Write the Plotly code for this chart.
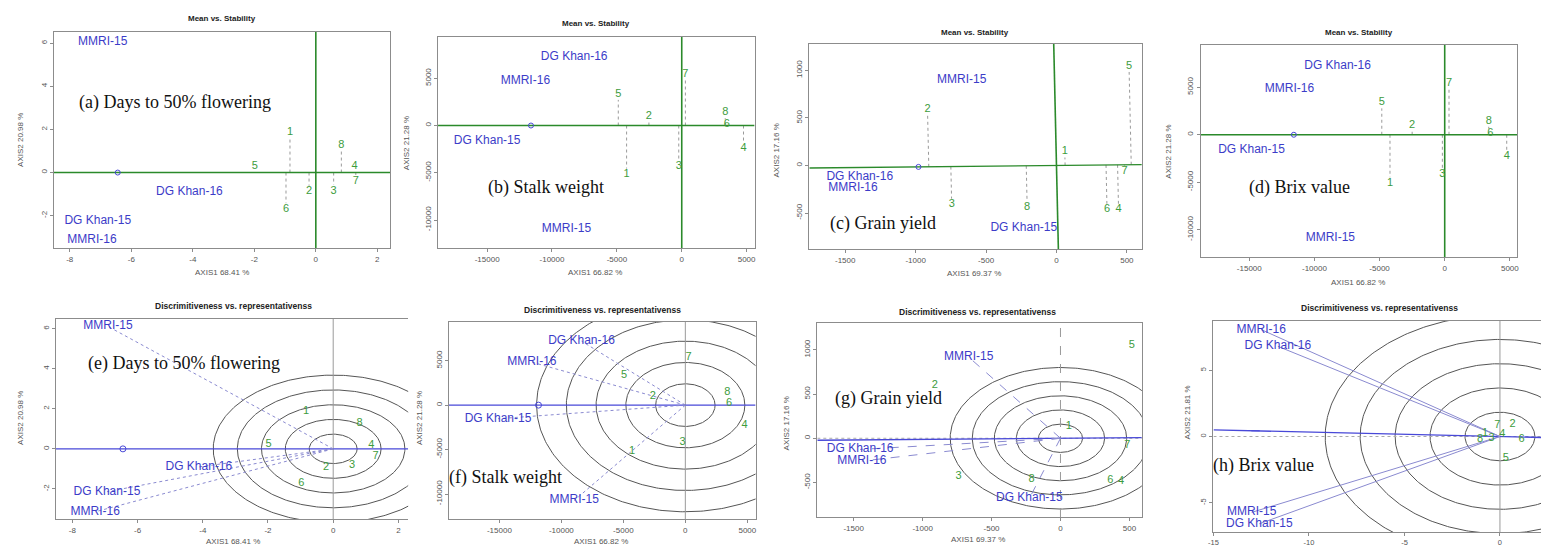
import numpy as np
import plotly.graph_objects as go

W, H = 1543, 547

# ------------------------------------------------------------------ data
gen_labels = ["1", "2", "3", "4", "5", "6", "7", "8"]

# (a) Days to 50% flowering : Mean vs. Stability
a_gen_x = [-0.84, -0.22, 0.58, 1.26, -1.98, -0.97, 1.30, 0.83]
a_gen_y = [1.88, -0.89, -0.85, 0.27, 0.27, -1.70, -0.39, 1.28]
a_env_labels = ["MMRI-15", "DG Khan-16", "DG Khan-15", "MMRI-16"]
a_env_x = [-6.93, -4.11, -7.09, -7.28]
a_env_y = [6.05, -0.89, -2.24, -3.12]
a_avg_env = [-6.44, 0.0]

# (b) Stalk weight : Mean vs. Stability
b_gen_x = [-4250, -2530, -230, 4760, -4890, 3480, 280, 3350]
b_gen_y = [-5190, 950, -4300, -2360, 3350, 110, 5400, 1410]
b_env_labels = ["DG Khan-16", "MMRI-16", "DG Khan-15", "MMRI-15"]
b_env_x = [-8290, -12050, -15000, -8880]
b_env_y = [7230, 4760, -1660, -10970]
b_avg_env = [-11620, 0.0]

# (c) Grain yield : Mean vs. Stability
c_gen_x = [59, -916, -744, 441, 515, 359, 484, -208]
c_gen_y = [147, 592, -412, -465, 1046, -465, -63, -441]
c_env_labels = ["MMRI-15", "DG Khan-16", "MMRI-16", "DG Khan-15"]
c_env_x = [-673, -1397, -1445, -232]
c_env_y = [899, -118, -240, -661]
c_avg_env = [-980, -15]

# (d) Brix value : Mean vs. Stability
d_gen_x = [-4200, -2500, -180, 4760, -4830, 3510, 330, 3380]
d_gen_y = [-5110, 1020, -4160, -2310, 3410, 150, 5470, 1470]
d_env_labels = ["DG Khan-16", "MMRI-16", "DG Khan-15", "MMRI-15"]
d_env_x = [-8220, -11910, -14830, -8780]
d_env_y = [7220, 4810, -1610, -10830]
d_avg_env = [-11580, 0.0]

# (e) Days to 50% flowering : Discrimitiveness vs. representativenss
e_gen_x = [-0.83, -0.22, 0.58, 1.17, -1.98, -0.98, 1.30, 0.81]
e_gen_y = [1.88, -0.90, -0.83, 0.16, 0.25, -1.70, -0.37, 1.26]
e_env_labels = ["MMRI-15", "DG Khan-16", "DG Khan-15", "MMRI-16"]
e_env_x = [-6.91, -4.12, -6.94, -7.30]
e_env_y = [6.11, -0.90, -2.14, -3.14]
e_avg_env = [-6.45, 0.0]
e_ring_radii = [0.735, 1.47, 2.20, 2.94, 3.68]

# (f) Stalk weight
f_gen_x = [-4306, -2622, -216, 4780, -4948, 3528, 265, 3392]
f_gen_y = [-5174, 1012, -4230, -2283, 3375, 157, 5400, 1462]
f_env_labels = ["DG Khan-16", "MMRI-16", "DG Khan-15", "MMRI-15"]
f_env_x = [-8372, -12382, -15108, -8958]
f_env_y = [7199, 4837, -1530, -10720]
f_avg_env = [-11845, 0.0]
f_ring_radii = [2400, 4800, 7200, 9600, 12000]

# (g) Grain yield
g_gen_x = [61, -912, -739, 440, 518, 361, 484, -209]
g_gen_y = [141, 605, -426, -491, 1051, -480, -75, -460]
g_env_labels = ["MMRI-15", "DG Khan-16", "MMRI-16", "DG Khan-15"]
g_env_x = [-666, -1453, -1441, -226]
g_env_y = [918, -126, -258, -680]
g_avg_env = [-980, -12]
g_ring_radii = [160, 320, 480, 640, 800]

# (h) Brix value
h_gen_x = [-0.78, 0.66, -0.44, 0.12, 0.31, 1.13, -0.14, -1.04]
h_gen_y = [0.26, 0.93, -0.12, 0.20, -1.62, -0.17, 0.83, -0.17]
h_env_labels = ["MMRI-16", "DG Khan-16", "MMRI-15", "DG Khan-15"]
h_env_x = [-12.5, -11.63, -13.0, -12.6]
h_env_y = [8.06, 6.80, -5.72, -6.58]
h_avg_env = [-12.8, 0.43]
h_ring_radii = [1.83, 3.66, 5.49, 7.32, 9.15]

# axis texts
titles_top = "Mean vs. Stability"
titles_bottom = "Discrimitiveness vs. representativenss"
panel_labels = ["(a) Days to 50% flowering", "(b) Stalk weight", "(c) Grain yield",
                "(d) Brix value", "(e) Days to 50% flowering", "(f) Stalk weight",
                "(g) Grain yield", "(h) Brix value"]
x_titles = ["AXIS1 68.41 %", "AXIS1 66.82 %", "AXIS1 69.37 %", "AXIS1 66.82 %",
            "AXIS1 68.41 %", "AXIS1 66.82 %", "AXIS1 69.37 %", None]
y_titles = ["AXIS2 20.98 %", "AXIS2 21.28 %", "AXIS2 17.16 %", "AXIS2 21.28 %",
            "AXIS2 20.98 %", "AXIS2 21.28 %", "AXIS2 17.16 %", "AXIS2 21.81 %"]

ticks_small_x = [-8, -6, -4, -2, 0, 2]
ticks_small_y = [-2, 0, 2, 4, 6]
ticks_big_x = [-15000, -10000, -5000, 0, 5000]
ticks_big_y = [-10000, -5000, 0, 5000]
ticks_gy_x = [-1500, -1000, -500, 0, 500]
ticks_gy_y = [-500, 0, 500, 1000]
ticks_h_x = [-15, -10, -5, 0]
ticks_h_y = [-5, 0, 5]

# ------------------------------------------------------------------ styles
GREEN_TXT = "#3d9c3d"
GREEN_LINE = "#2b8a2b"
BLUE_TXT = "#3c3cc8"
BLUE_LINE = "#4848d8"
ENV_LINE = "#8a8ad0"
GREY = "#8c8c8c"
SANS = "Liberation Sans, Arial, sans-serif"
SERIF = "Liberation Serif, DejaVu Serif, serif"


def X(p):
    return p / W


def Y(p):
    return 1 - p / H


fig = go.Figure()
axes = {}
annotations = []


def names(k):
    s = "" if k == 1 else str(k)
    return "x" + s, "y" + s, "xaxis" + s, "yaxis" + s


def fmt(v):
    return str(int(v)) if float(v).is_integer() else str(v)


def setup(k, box, xr, yr, xt, yt, right=True, fsize=8):
    xa, ya, xn, yn = names(k)
    common = dict(showgrid=False, zeroline=False, showline=True, linecolor=GREY,
                  linewidth=1, ticks="outside", ticklen=3, tickcolor=GREY, tickwidth=1,
                  tickfont=dict(family=SANS, size=fsize, color="#555"))
    axes[xn] = dict(domain=[X(box[0]), X(box[1])], range=xr, anchor=ya,
                    tickvals=xt, ticktext=[fmt(v) for v in xt], mirror=True, **common)
    axes[yn] = dict(domain=[Y(box[3]), Y(box[2])], range=yr, anchor=xa,
                    tickvals=yt, ticktext=[fmt(v) for v in yt], tickangle=-90,
                    mirror=right, **common)
    kx = (box[1] - box[0]) / (xr[1] - xr[0])
    ky = (box[3] - box[2]) / (yr[1] - yr[0])
    return xa, ya, kx, ky


def segs(xa, ya, pairs, color, width=1, dash="solid"):
    xs, ys = [], []
    for (x0, y0), (x1, y1) in pairs:
        xs += [x0, x1, None]
        ys += [y0, y1, None]
    fig.add_trace(go.Scatter(x=xs, y=ys, xaxis=xa, yaxis=ya, mode="lines",
                             line=dict(color=color, width=width, dash=dash),
                             hoverinfo="skip"))


def texts(xa, ya, xs, ys, labels, color, size):
    fig.add_trace(go.Scatter(x=xs, y=ys, xaxis=xa, yaxis=ya, mode="text", text=labels,
                             textposition="middle center", cliponaxis=False,
                             textfont=dict(family=SANS, size=size, color=color),
                             hoverinfo="skip"))


def marker(xa, ya, pt, symbol="circle-open", size=6):
    fig.add_trace(go.Scatter(x=[pt[0]], y=[pt[1]], xaxis=xa, yaxis=ya, mode="markers",
                             marker=dict(symbol=symbol, size=size, color=BLUE_LINE,
                                         line=dict(width=1, color=BLUE_LINE)),
                             hoverinfo="skip"))


def annotate(text, x, y, size, color="#555", family=SANS, angle=0, xanchor="center"):
    annotations.append(dict(text=text, x=X(x), y=Y(y), xref="paper", yref="paper",
                            showarrow=False, font=dict(family=family, size=size, color=color),
                            textangle=angle, xanchor=xanchor, yanchor="middle",
                            borderpad=0))


def mean_stability(k, box, xr, yr, xt, yt, gx, gy, ex, ey, elab, avg, label_pos, title_pos,
                   xt_pos, yt_pos):
    xa, ya, kx, ky = setup(k, box, xr, yr, xt, yt)
    s = avg[1] / avg[0]
    # projection lines from ATC abscissa to genotypes
    pairs = []
    for x, y in zip(gx, gy):
        t = (x + s * y) / (1 + s * s)
        fx, fy = t, s * t
        L = np.hypot((x - fx) * kx, (y - fy) * ky)
        off = 6.0
        if L > off:
            r = 1 - off / L
            pairs.append(((fx, fy), (fx + (x - fx) * r, fy + (y - fy) * r)))
    segs(xa, ya, pairs, "#9a9a9a", 1, "dot")
    # ATC axes
    segs(xa, ya, [((xr[0], s * xr[0]), (xr[1], s * xr[1]))], GREEN_LINE, 1.4)
    segs(xa, ya, [((-s * yr[1], yr[1]), (-s * yr[0], yr[0]))], GREEN_LINE, 1.6)
    marker(xa, ya, avg, "circle-open", 5)
    texts(xa, ya, gx, gy, gen_labels, GREEN_TXT, 11)
    texts(xa, ya, ex, ey, elab, BLUE_TXT, 12)
    annotate("<b>" + titles_top + "</b>", title_pos[0], title_pos[1], 8, "#222")
    annotate(panel_labels[k - 1], label_pos[0], label_pos[1], 18, "#111", SERIF, 0, "left")
    annotate(x_titles[k - 1], xt_pos[0], xt_pos[1], 8)
    annotate(y_titles[k - 1], yt_pos[0], yt_pos[1], 8, angle=-90)


def discrim(k, box, xr, yr, xt, yt, gx, gy, ex, ey, elab, avg, radii, label_pos, title_pos,
            xt_pos, yt_pos, right=True, env_dash="dot", vdash="solid", show_marker=True,
            marker_symbol="circle-open", fsize=8):
    xa, ya, kx, ky = setup(k, box, xr, yr, xt, yt, right, fsize)
    th = np.linspace(0, 2 * np.pi, 361)
    for r in radii:
        fig.add_trace(go.Scatter(x=r * np.cos(th), y=r * np.sin(th), xaxis=xa, yaxis=ya,
                                 mode="lines", line=dict(color="#555", width=1),
                                 hoverinfo="skip"))
    s = avg[1] / avg[0]
    segs(xa, ya, [((0, yr[0]), (0, yr[1]))], "#9a9a9a", 1, vdash)
    if s != 0:
        segs(xa, ya, [((xr[0], 0), (xr[1], 0))], "#aaaaaa", 1, "dot")
    segs(xa, ya, [((xr[0], s * xr[0]), (xr[1], s * xr[1]))], BLUE_LINE, 1.4)
    segs(xa, ya, [((0, 0), (x, y)) for x, y in zip(ex, ey)], ENV_LINE, 1, env_dash)
    if show_marker:
        marker(xa, ya, avg, marker_symbol, 6)
    texts(xa, ya, gx, gy, gen_labels, GREEN_TXT, 11)
    texts(xa, ya, ex, ey, elab, BLUE_TXT, 12)
    annotate("<b>" + titles_bottom + "</b>", title_pos[0], title_pos[1], 8.5, "#222")
    annotate(panel_labels[k - 1], label_pos[0], label_pos[1], 18, "#111", SERIF, 0, "left")
    if x_titles[k - 1]:
        annotate(x_titles[k - 1], xt_pos[0], xt_pos[1], 8)
    annotate(y_titles[k - 1], yt_pos[0], yt_pos[1], 8, angle=-90)


# ------------------------------------------------------------------ panels
mean_stability(1, (49, 387, 32, 248), [-8.52, 2.42], [-3.5, 6.52], ticks_small_x, ticks_small_y,
               a_gen_x, a_gen_y, a_env_x, a_env_y, a_env_labels, a_avg_env,
               (73, 102), (218, 19), (218, 272), (15, 140))
mean_stability(2, (435, 753, 37, 248), [-18784, 5614], [-12963, 9370], ticks_big_x, ticks_big_y,
               b_gen_x, b_gen_y, b_env_x, b_env_y, b_env_labels, b_avg_env,
               (484, 188), (594, 23), (593, 272), (403, 143))
mean_stability(3, (808, 1142, 44, 249), [-1755, 606], [-878, 1277], ticks_gy_x, ticks_gy_y,
               c_gen_x, c_gen_y, c_env_x, c_env_y, c_env_labels, c_avg_env,
               (828, 223), (974, 32), (973, 273), (775, 150))
mean_stability(4, (1201, 1519, 45, 257), [-18740, 5557], [-12870, 9448], ticks_big_x, ticks_big_y,
               d_gen_x, d_gen_y, d_env_x, d_env_y, d_env_labels, d_avg_env,
               (1249, 188), (1360, 32), (1359, 282), (1168, 152))

discrim(5, (51, 405, 319, 519), [-8.51, 2.3], [-3.5, 6.48], ticks_small_x, ticks_small_y,
        e_gen_x, e_gen_y, e_env_x, e_env_y, e_env_labels, e_avg_env, e_ring_radii,
        (82, 363), (230, 306), (229, 541), (15, 418), right=False)
discrim(6, (446, 754, 322, 519), [-19066, 5666], [-12812, 9353], ticks_big_x, ticks_big_y,
        f_gen_x, f_gen_y, f_env_x, f_env_y, f_env_labels, f_avg_env, f_ring_radii,
        (445, 478), (600, 310), (599, 541), (416, 418))
discrim(7, (816, 1142, 323, 517), [-1764, 590], [-890, 1303], ticks_gy_x, ticks_gy_y,
        g_gen_x, g_gen_y, g_env_x, g_env_y, g_env_labels, g_avg_env, g_ring_radii,
        (833, 398), (977, 312), (977, 539), (785, 423), env_dash="dash", vdash="dash",
        show_marker=False)
discrim(8, (1214, 1543, 321, 532), [-15, 2.15], [-7.2, 8.71], ticks_h_x, ticks_h_y,
        h_gen_x, h_gen_y, h_env_x, h_env_y, h_env_labels, h_avg_env, h_ring_radii,
        (1213, 465), (1381, 308), (0, 0), (1187, 413), right=False, env_dash="solid",
        marker_symbol="line-ew", fsize=7.5)

fig.update_layout(width=W, height=H, margin=dict(l=0, r=0, t=0, b=0),
                  paper_bgcolor="white", plot_bgcolor="white", showlegend=False,
                  annotations=annotations, **axes)
fig.write_html("out.html", config={"displayModeBar": False},
               post_script="document.body.style.margin='0';document.body.style.overflow='hidden';")
